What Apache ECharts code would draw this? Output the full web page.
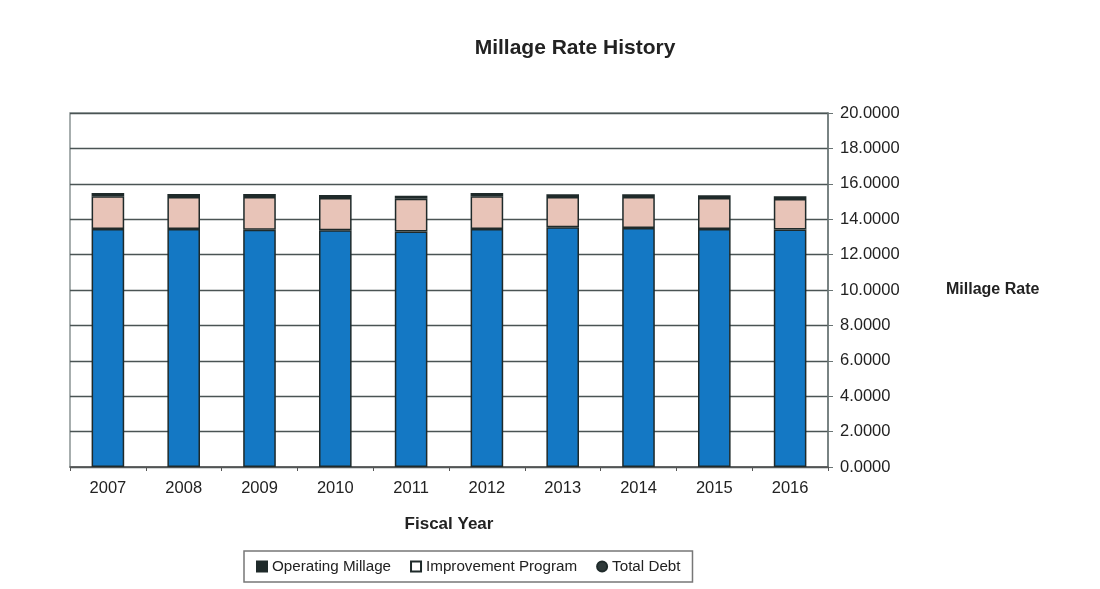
<!DOCTYPE html>
<html>
<head>
<meta charset="utf-8">
<script src="https://cdn.jsdelivr.net/npm/echarts@6/dist/echarts.min.js"></script>
<style>
  html, body { margin: 0; padding: 0; background: #ffffff; }
  #chart { width: 1100px; height: 589px; }
</style>
</head>
<body>
<div id="chart"></div>
<script>
// Fiscal years and millage components
const years = ['2007', '2008', '2009', '2010', '2011', '2012', '2013', '2014', '2015', '2016'];
const operatingMillage = [13.45, 13.45, 13.40, 13.38, 13.30, 13.45, 13.55, 13.50, 13.45, 13.42];
const improvementProgram = [1.85, 1.80, 1.85, 1.82, 1.85, 1.85, 1.70, 1.75, 1.75, 1.72];
const totalDebt = [0.18, 0.18, 0.17, 0.17, 0.18, 0.18, 0.16, 0.16, 0.15, 0.15];
const yTicks = [0, 2, 4, 6, 8, 10, 12, 14, 16, 18, 20];

const font = 'Liberation Sans, Arial, sans-serif';
const ink = '#1f2a2a';
const edge = { borderColor: ink, borderWidth: 1.5 };

const chart = echarts.init(document.getElementById('chart'));
chart.setOption({
  backgroundColor: '#ffffff',
  animation: false,
  title: {
    text: 'Millage Rate History',
    left: 570, top: 33, textAlign: 'center',
    textStyle: { fontFamily: font, fontSize: 21, fontWeight: 'bold', color: '#222' }
  },
  legend: {
    left: 244, top: 551, width: 450,
    padding: [8, 12, 8, 12],
    borderColor: '#777', borderWidth: 1.5,
    itemWidth: 10, itemHeight: 10, itemGap: 19,
    textStyle: { fontFamily: font, fontSize: 15.2, color: '#222' },
    data: [
      { name: 'Operating Millage', icon: 'rect', itemStyle: { color: ink, borderColor: ink } },
      { name: 'Improvement Program', icon: 'rect', itemStyle: { color: '#ffffff', borderColor: ink, borderWidth: 2 } },
      { name: 'Total Debt', icon: 'circle', itemStyle: { color: '#2f3a3a', borderColor: ink } }
    ]
  },
  grid: { left: 70, right: 272, top: 113, bottom: 122, show: true, borderColor: '#8a9494', borderWidth: 1.5 },
  xAxis: {
    type: 'category',
    data: years,
    name: 'Fiscal Year',
    nameLocation: 'middle',
    nameGap: 49,
    nameTextStyle: { fontFamily: font, fontSize: 17, fontWeight: 'bold', color: '#222' },
    axisLine: { lineStyle: { color: '#555', width: 1.5 } },
    axisTick: { show: true, length: 4, lineStyle: { color: '#555' } },
    axisLabel: { fontFamily: font, fontSize: 16.5, color: '#222', margin: 13 }
  },
  yAxis: {
    type: 'value',
    position: 'right',
    min: yTicks[0], max: yTicks[yTicks.length - 1], interval: 2,
    name: 'Millage Rate',
    nameLocation: 'middle',
    nameRotate: 0,
    nameGap: 118,
    nameTextStyle: { fontFamily: font, fontSize: 16, fontWeight: 'bold', color: '#222', align: 'left' },
    axisLine: { show: true, lineStyle: { color: '#6a7474', width: 1.5 } },
    axisTick: { show: true, length: 5, inside: false, lineStyle: { color: '#6a7474' } },
    axisLabel: { fontFamily: font, fontSize: 16.5, color: '#222', margin: 12,
      formatter: v => v.toFixed(4) },
    splitLine: { lineStyle: { color: '#4a5454', width: 1.3 } }
  },
  series: [
    {
      name: 'Operating Millage', type: 'bar', stack: 'rate', barWidth: '43%',
      data: operatingMillage,
      itemStyle: Object.assign({ color: '#1478c4' }, edge)
    },
    {
      name: 'Improvement Program', type: 'bar', stack: 'rate',
      data: improvementProgram,
      itemStyle: Object.assign({ color: '#e8c4b8' }, edge)
    },
    {
      name: 'Total Debt', type: 'bar', stack: 'rate',
      data: totalDebt,
      itemStyle: Object.assign({ color: ink }, edge)
    }
  ]
});
</script>
</body>
</html>
